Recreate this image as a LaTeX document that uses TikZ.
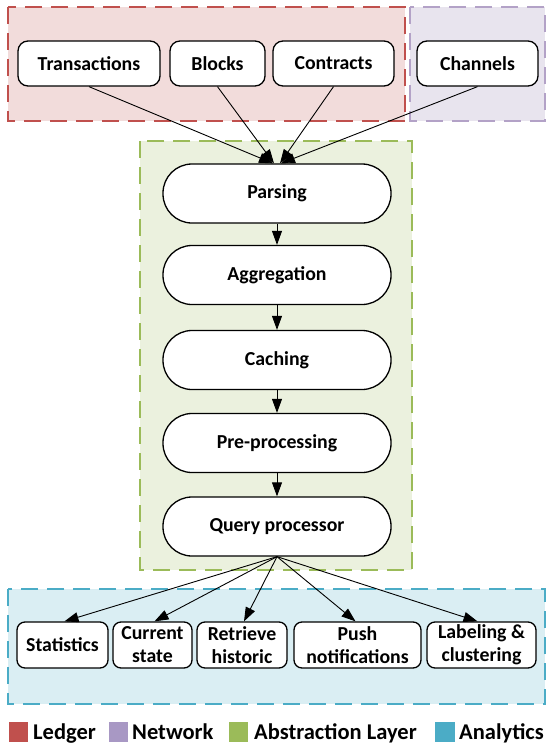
\documentclass[tikz,border=0pt]{standalone}
\usepackage{fontspec}
\setmainfont{Carlito}
\usetikzlibrary{arrows.meta}
\definecolor{ledgerB}{HTML}{C0504D}
\definecolor{ledgerF}{HTML}{F2DCDB}
\definecolor{netB}{HTML}{B3A2C7}
\definecolor{netF}{HTML}{E8E4EE}
\definecolor{netL}{HTML}{A898C4}
\definecolor{absB}{HTML}{9BBB59}
\definecolor{absF}{HTML}{EBF1DE}
\definecolor{anaB}{HTML}{4BACC6}
\definecolor{anaF}{HTML}{DAEEF3}
\tikzset{
  layerbox/.style={line width=2.4pt, dash pattern=on 17pt off 9pt},
  topbox/.style={draw=black, fill=white, line width=1.3pt, rounded corners=10pt, minimum height=45pt, inner sep=0pt, font=\fontsize{19.8}{23}\selectfont\bfseries},
  midbox/.style={draw=black, fill=white, line width=1.3pt, rounded corners=29pt, minimum width=228pt, minimum height=59pt, inner sep=0pt, font=\fontsize{19.8}{23}\selectfont\bfseries},
  botbox/.style={draw=black, fill=white, line width=1.3pt, rounded corners=8pt, minimum height=46pt, inner sep=0pt, align=center, font=\fontsize{19.8}{23}\selectfont\bfseries},
  conn/.style={line width=0.9pt, -{Triangle[length=14pt,width=10pt]}},
  legtext/.style={anchor=base west, inner sep=0pt, font=\fontsize{22.5}{26}\selectfont\bfseries}
}
\begin{document}
\begin{tikzpicture}[x=1pt,y=-1pt]
\useasboundingbox (0,0) rectangle (546,745);
% layer boxes
\path[layerbox, draw=ledgerB, fill=ledgerF] (8,7) rectangle (405,121);
\path[layerbox, draw=netB, fill=netF] (410,7) rectangle (545,121);
\path[layerbox, draw=absB, fill=absF] (140,141) rectangle (412,570);
\path[layerbox, draw=anaB, fill=anaF] (8,589) rectangle (545,704);
% top nodes
\node[topbox, minimum width=142pt] (tx) at (89,63.5) {Transactions};
\node[topbox, minimum width=95pt] (bl) at (217.5,63.5) {Blocks};
\node[topbox, minimum width=121pt] (co) at (333.5,63.5) {Contracts};
\node[topbox, minimum width=121pt] (ch) at (477.5,63.5) {Channels};
% middle nodes
\node[midbox] (pa) at (277,193.5) {Parsing};
\node[midbox] (ag) at (277,275) {Aggregation};
\node[midbox] (ca) at (277,360) {Caching};
\node[midbox] (pp) at (277,443) {Pre-processing};
\node[midbox] (qp) at (277,526.5) {Query processor};
% bottom nodes
\node[botbox, minimum width=91pt] (st) at (62.5,645) {Statistics};
\node[botbox, minimum width=79pt] (cs) at (152.5,645) {Current\\state};
\node[botbox, minimum width=90pt] (rh) at (242,645) {Retrieve\\historic};
\node[botbox, minimum width=127pt] (pn) at (357.5,645) {Push\\notifications};
\node[botbox, minimum width=109pt] (lc) at (481.5,645) {Labeling \&\\clustering};
% connectors top
\draw[conn] (tx.south) -- ([xshift=-4pt]pa.north);
\draw[conn] (bl.south) -- ([xshift=-3pt]pa.north);
\draw[conn] (co.south) -- ([xshift=3pt]pa.north);
\draw[conn] (ch.south) -- ([xshift=4pt]pa.north);
% chain
\draw[conn] (pa) -- (ag);
\draw[conn] (ag) -- (ca);
\draw[conn] (ca) -- (pp);
\draw[conn] (pp) -- (qp);
% fan-out
\draw[conn] (qp.south) -- ([xshift=2pt]st.north);
\draw[conn] (qp.south) -- ([xshift=2pt]cs.north);
\draw[conn] (qp.south) -- ([xshift=2pt]rh.north);
\draw[conn] (qp.south) -- ([xshift=-2pt]pn.north);
\draw[conn] (qp.south) -- ([xshift=-4pt]lc.north);
% legend
\fill[ledgerB] (9,722) rectangle (28,741.5);
\node[legtext] (lg1) at (33,739) {Ledger};
\fill[netL] (109,722) rectangle (128,741.5);
\node[legtext] (lg2) at (132,739) {Network};
\fill[absB] (229,722) rectangle (248,741.5);
\node[legtext] (lg3) at (254,739) {Abstraction Layer};
\fill[anaB] (435,722) rectangle (455,741.5);
\node[legtext] (lg4) at (459,739) {Analytics};
\end{tikzpicture}
\end{document}
